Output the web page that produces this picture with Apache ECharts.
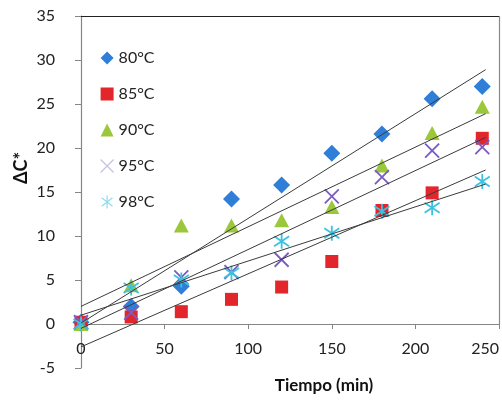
<!DOCTYPE html>
<html>
<head>
<meta charset="utf-8">
<script src="https://cdn.jsdelivr.net/npm/echarts@6/dist/echarts.min.js"></script>
<style>
  html, body { margin: 0; padding: 0; background: #fff; }
  #chart { width: 502px; height: 400px; }
</style>
</head>
<body>
<div id="chart"></div>
<script>
const times = [0, 30, 60, 90, 120, 150, 180, 210, 240]
const names = ['80°C', '85°C', '90°C', '95°C', '98°C']
const v80 = [0.2, 2.0, 4.3, 14.2, 15.8, 19.4, 21.6, 25.6, 27.0]
const v85 = [0.2, 0.8, 1.4, 2.8, 4.2, 7.1, 12.9, 14.9, 21.1]
const v90 = [0.0, 4.4, 11.2, 11.2, 11.8, 13.3, 18.0, 21.7, 24.7]
const v95 = [0.2, 1.3, 5.3, 5.9, 7.3, 14.5, 16.7, 19.7, 20.1]
const v98 = [0.0, 4.1, 5.0, 5.8, 9.4, 10.3, 12.8, 13.2, 16.2]
// trend lines: value at x=0 and at trendEndX
const trendEndX = 242
const trendStart = [0.1, -2.6, 2.0, -0.5, 1.0]
const trendEnd = [28.9, 17.5, 23.9, 21.2, 15.9]
const xTicks = { min: 0, max: 250, interval: 50 }
const yTicks = { min: -5, max: 35, interval: 5 }

const colors = ['#2f7ed8', '#e2262b', '#9bc83a', '#7a5cc2', '#3cc2e0']
const symbols = [
  'diamond',
  'rect',
  'triangle',
  'path://M0,0L10,10M10,0L0,10',
  'path://M0,1L10,9M10,1L0,9M5,-1L5,11',
]
const sizes = [[17, 17], 13, [15, 14], 14, 15]
const values = [v80, v85, v90, v95, v98]
const font = 'Lato, "Noto Sans", sans-serif'

const chart = echarts.init(document.getElementById('chart'))

const scatter = names.map((n, i) => ({
  name: n,
  type: 'scatter',
  data: times.map((t, j) => [t, values[i][j]]),
  symbol: symbols[i],
  symbolSize: sizes[i],
  z: 2,
  itemStyle: i >= 3
    ? { color: 'rgba(0,0,0,0)', borderColor: colors[i], borderWidth: 1.8, opacity: 1 }
    : { color: colors[i], opacity: 1 },
}))

const trends = names.map((n, i) => ({
  type: 'line',
  data: [[0, trendStart[i]], [trendEndX, trendEnd[i]]],
  symbol: 'none',
  silent: true,
  z: 3,
  lineStyle: { color: '#3a3a3a', width: 1 },
}))

// plot-area border (top and right), from the axis limits
trends[0].markLine = {
  silent: true,
  symbol: 'none',
  label: { show: false },
  data: [
    [{ coord: [xTicks.min, yTicks.max], lineStyle: { color: '#222', width: 1.2, type: 'solid' } },
     { coord: [xTicks.max, yTicks.max] }],
    [{ coord: [xTicks.max, 0], lineStyle: { color: '#8a8a8a', width: 1.2, type: 'solid' } },
     { coord: [xTicks.max, yTicks.max] }],
  ],
}

chart.setOption({
  animation: false,
  textStyle: { fontFamily: font },
  // grid 0: the full plot (-5..35); grid 1: same box cut at y=0, carries the x axis
  grid: [
    { left: 81, right: 3, top: 16, bottom: 32, outerBoundsMode: 'none', containLabel: false },
    { left: 81, right: 3, top: 16, bottom: 76, outerBoundsMode: 'none', containLabel: false },
  ],
  legend: {
    data: names.map((n, i) => ({
      name: n,
      icon: symbols[i],
      itemStyle: i >= 3
        ? { color: 'rgba(0,0,0,0)', borderColor: i === 3 ? '#c8c0e2' : '#8fdcef', borderWidth: 1.2 }
        : { color: colors[i] },
    })),
    orient: 'vertical',
    left: 95,
    top: 45,
    itemWidth: 13,
    itemHeight: 13,
    itemGap: 20,
    textStyle: { fontSize: 16, color: '#222', fontFamily: font },
  },
  xAxis: [
    {
      gridIndex: 0,
      type: 'value',
      min: xTicks.min,
      max: xTicks.max,
      interval: xTicks.interval,
      show: false,
    },
    {
      gridIndex: 1,
      type: 'value',
      min: xTicks.min,
      max: xTicks.max,
      interval: xTicks.interval,
      position: 'bottom',
      axisLine: { onZero: false, lineStyle: { color: '#868686', width: 1.2 } },
      axisTick: { show: true, length: 5, lineStyle: { color: '#868686' } },
      axisLabel: {
        color: '#222', fontSize: 16, margin: 17, fontFamily: font,
        showMaxLabel: true, alignMaxLabel: 'right',
      },
      splitLine: { show: false },
    },
  ],
  yAxis: [
    {
      gridIndex: 0,
      type: 'value',
      min: yTicks.min,
      max: yTicks.max,
      interval: yTicks.interval,
      axisLine: { show: true, lineStyle: { color: '#868686', width: 1.2 } },
      axisTick: { show: true, length: 6, lineStyle: { color: '#868686' } },
      axisLabel: { color: '#222', fontSize: 16, margin: 26, fontFamily: font },
      splitLine: { show: false },
    },
    {
      gridIndex: 1,
      type: 'value',
      min: 0,
      max: yTicks.max,
      show: false,
    },
  ],
  graphic: [
    {
      type: 'text',
      x: 21,
      y: 168,
      rotation: Math.PI / 2,
      style: { text: 'ΔC*', font: 'bold 18px ' + font, fill: '#111', textAlign: 'center', textVerticalAlign: 'middle' },
    },
    {
      type: 'text',
      x: 324,
      y: 386,
      style: { text: 'Tiempo (min)', font: 'bold 17px ' + font, fill: '#111', textAlign: 'center', textVerticalAlign: 'middle' },
    },
  ],
  series: [...scatter, ...trends],
})
</script>
</body>
</html>
